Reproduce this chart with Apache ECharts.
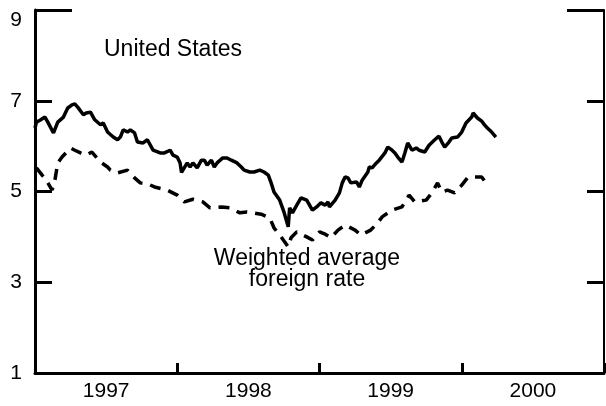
<!DOCTYPE html>
<html>
<head>
<meta charset="utf-8">
<script src="https://cdn.jsdelivr.net/npm/echarts@6/dist/echarts.min.js"></script>
<style>
  html, body { margin: 0; padding: 0; background: #fff; }
  #chart { width: 606px; height: 406px; }
</style>
</head>
<body>
<div id="chart"></div>
<script>
// 年份标签（放在每年中间）
var yearLabels = ['1997', '1998', '1999', '2000'];

// 美国利率（实线）: 时间(年) / 利率
var usDates = [1997.00, 1997.01, 1997.035, 1997.07, 1997.09, 1997.13, 1997.16, 1997.20, 1997.23, 1997.26,
  1997.28, 1997.30, 1997.34, 1997.36, 1997.39, 1997.42, 1997.46, 1997.48, 1997.51, 1997.55,
  1997.58, 1997.60, 1997.62, 1997.65, 1997.67, 1997.70, 1997.72, 1997.76, 1997.79, 1997.83,
  1997.88, 1997.91, 1997.95, 1997.97, 1998.00, 1998.02, 1998.03, 1998.07, 1998.09, 1998.11,
  1998.14, 1998.17, 1998.19, 1998.21, 1998.24, 1998.26, 1998.28, 1998.32, 1998.35, 1998.38,
  1998.42, 1998.45, 1998.47, 1998.51, 1998.54, 1998.58, 1998.61, 1998.64, 1998.66, 1998.68,
  1998.72, 1998.75, 1998.78, 1998.79, 1998.81, 1998.84, 1998.87, 1998.91, 1998.93, 1998.95,
  1998.98, 1999.01, 1999.04, 1999.06, 1999.07, 1999.11, 1999.14, 1999.16, 1999.18, 1999.20,
  1999.22, 1999.26, 1999.28, 1999.30, 1999.34, 1999.35, 1999.37, 1999.40, 1999.42, 1999.46,
  1999.48, 1999.51, 1999.53, 1999.55, 1999.58, 1999.60, 1999.62, 1999.65, 1999.68, 1999.70,
  1999.74, 1999.77, 1999.81, 1999.84, 1999.86, 1999.88, 1999.91, 1999.93, 1999.97, 2000.00,
  2000.03, 2000.07, 2000.08, 2000.11, 2000.14, 2000.16, 2000.18, 2000.21, 2000.24];
var usRates = [6.40, 6.53, 6.57, 6.64, 6.53, 6.29, 6.53, 6.64, 6.84, 6.91,
  6.93, 6.86, 6.69, 6.73, 6.75, 6.58, 6.47, 6.51, 6.31, 6.20,
  6.14, 6.20, 6.36, 6.31, 6.36, 6.29, 6.09, 6.07, 6.14, 5.91,
  5.85, 5.85, 5.91, 5.80, 5.76, 5.63, 5.42, 5.63, 5.54, 5.63,
  5.52, 5.69, 5.69, 5.58, 5.69, 5.54, 5.63, 5.74, 5.74, 5.69,
  5.63, 5.54, 5.47, 5.43, 5.43, 5.47, 5.43, 5.36, 5.19, 4.99,
  4.81, 4.55, 4.22, 4.64, 4.53, 4.70, 4.86, 4.81, 4.70, 4.59,
  4.66, 4.75, 4.70, 4.77, 4.66, 4.81, 4.97, 5.19, 5.32, 5.30,
  5.19, 5.21, 5.10, 5.25, 5.43, 5.54, 5.52, 5.63, 5.69, 5.85,
  5.98, 5.91, 5.85, 5.76, 5.65, 5.85, 6.07, 5.91, 5.96, 5.91,
  5.87, 6.02, 6.14, 6.22, 6.09, 5.98, 6.09, 6.18, 6.20, 6.31,
  6.51, 6.64, 6.73, 6.62, 6.55, 6.47, 6.40, 6.31, 6.20];

// 外国加权平均利率（虚线）
var foreignDates = [1997.01, 1997.05, 1997.07, 1997.12, 1997.14, 1997.16, 1997.19, 1997.25, 1997.28, 1997.32,
  1997.36, 1997.40, 1997.46, 1997.51, 1997.53, 1997.58, 1997.65, 1997.70, 1997.74, 1997.79,
  1997.84, 1997.93, 1998.00, 1998.05, 1998.11, 1998.18, 1998.23, 1998.31, 1998.37, 1998.44,
  1998.49, 1998.59, 1998.65, 1998.68, 1998.73, 1998.78, 1998.80, 1998.84, 1998.91, 1998.95,
  1999.00, 1999.04, 1999.08, 1999.13, 1999.18, 1999.25, 1999.29, 1999.36, 1999.41, 1999.44,
  1999.51, 1999.58, 1999.63, 1999.67, 1999.75, 1999.79, 1999.83, 1999.86, 1999.90, 1999.95,
  2000.00, 2000.04, 2000.09, 2000.14, 2000.17, 2000.19];
var foreignRates = [5.52, 5.36, 5.30, 5.03, 5.25, 5.63, 5.76, 5.96, 5.91, 5.85,
  5.80, 5.87, 5.65, 5.54, 5.47, 5.41, 5.47, 5.30, 5.19, 5.17,
  5.10, 5.03, 4.92, 4.77, 4.83, 4.77, 4.64, 4.66, 4.64, 4.53,
  4.55, 4.50, 4.42, 4.20, 4.00, 3.78, 3.98, 4.11, 4.00, 3.93,
  4.11, 4.06, 3.98, 4.15, 4.26, 4.15, 4.04, 4.15, 4.31, 4.44,
  4.59, 4.66, 4.92, 4.77, 4.81, 4.97, 5.19, 4.99, 5.03, 4.97,
  5.14, 5.30, 5.32, 5.32, 5.19, 5.12];

// 纵轴刻度
var yMin = 1, yMax = 9, yStep = 2;

function pairs(xs, ys) {
  return xs.map(function (x, i) { return [x, ys[i]]; });
}

var myChart = echarts.init(document.getElementById('chart'));
var font = '"Liberation Sans", Arial, sans-serif';
var tickStyle = { color: '#000', width: 3 };

myChart.setOption({
  animation: false,
  backgroundColor: '#fff',
  grid: { left: 35, right: 2, top: 10, bottom: 33 },
  xAxis: [{
    type: 'value', min: 1997, max: 2001, interval: 1,
    axisLine: { lineStyle: { color: '#000', width: 3 } },
    axisTick: { inside: true, length: 10, lineStyle: tickStyle },
    axisLabel: { show: false },
    splitLine: { show: false }
  }, {
    type: 'category', position: 'bottom', data: yearLabels, boundaryGap: true,
    axisLine: { show: false },
    axisTick: { show: false },
    axisLabel: { color: '#000', fontSize: 21, fontFamily: font, margin: 8 }
  }],
  yAxis: [{
    type: 'value', position: 'left', min: yMin, max: yMax, interval: yStep,
    axisLine: { show: true, lineStyle: { color: '#000', width: 3 } },
    axisTick: { show: true, inside: true, length: 17, lineStyle: tickStyle },
    axisLabel: { color: '#000', fontSize: 21, fontFamily: font, margin: 13,
      verticalAlignMaxLabel: 'top' },
    splitLine: { show: false }
  }, {
    type: 'value', position: 'left', min: yMin, max: yMax, interval: yMax - yMin,
    axisLine: { show: false },
    axisTick: { show: true, inside: true, length: 37, lineStyle: tickStyle },
    axisLabel: { show: false },
    splitLine: { show: false }
  }, {
    type: 'value', position: 'right', min: yMin, max: yMax, interval: yStep,
    axisLine: { show: true, lineStyle: { color: '#000', width: 2 } },
    axisTick: { show: true, inside: true, length: 17, lineStyle: tickStyle },
    axisLabel: { show: false },
    splitLine: { show: false }
  }, {
    type: 'value', position: 'right', min: yMin, max: yMax, interval: yMax - yMin,
    axisLine: { show: false },
    axisTick: { show: true, inside: true, length: 37, lineStyle: tickStyle },
    axisLabel: { show: false },
    splitLine: { show: false }
  }],
  graphic: [{
    type: 'text', x: 104, y: 50,
    style: { text: 'United States', fill: '#000', font: '23px ' + font,
      align: 'left', verticalAlign: 'middle' }
  }, {
    type: 'text', x: 307, y: 259,
    style: { text: 'Weighted average', fill: '#000', font: '23px ' + font,
      align: 'center', verticalAlign: 'middle' }
  }, {
    type: 'text', x: 307, y: 280,
    style: { text: 'foreign rate', fill: '#000', font: '23px ' + font,
      align: 'center', verticalAlign: 'middle' }
  }],
  series: [{
    name: 'United States', type: 'line', xAxisIndex: 0, yAxisIndex: 0,
    data: pairs(usDates, usRates), showSymbol: false,
    lineStyle: { color: '#000', width: 3.5 }
  }, {
    name: 'Weighted average foreign rate', type: 'line', xAxisIndex: 0, yAxisIndex: 0,
    data: pairs(foreignDates, foreignRates), showSymbol: false,
    lineStyle: { color: '#000', width: 3.5, type: [11, 8] }
  }]
});
</script>
</body>
</html>
